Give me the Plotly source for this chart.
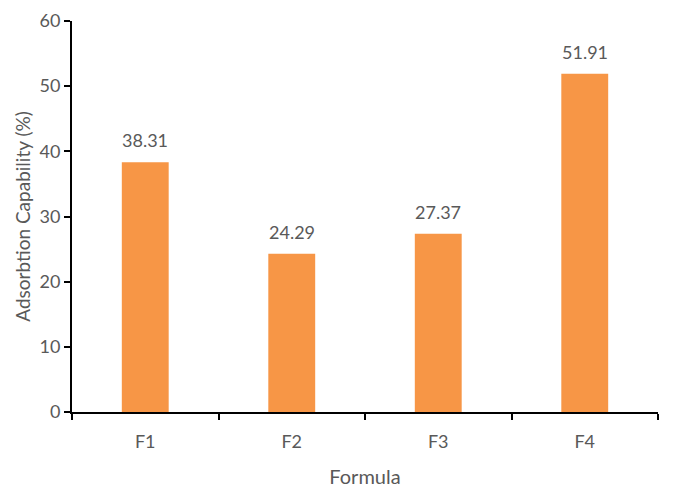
import plotly.graph_objects as go

# Absorption capability per formula
formulas = ["F1", "F2", "F3", "F4"]
absorption = [38.31, 24.29, 27.37, 51.91]
y_ticks = [0, 10, 20, 30, 40, 50, 60]

FONT = "Lato, Carlito, Calibri, Noto Sans, sans-serif"
GREY = "#595959"
BAR = "#F79646"

fig = go.Figure(
    go.Bar(
        x=formulas,
        y=absorption,
        marker=dict(color=BAR, line=dict(width=0)),
        width=0.32,
        hoverinfo="x+y",
    )
)

# Value labels above each bar
for f, v in zip(formulas, absorption):
    fig.add_annotation(
        x=f, y=v, text=f"{v:.2f}", showarrow=False,
        yanchor="bottom", yshift=9,
        font=dict(family=FONT, size=18, color=GREY),
    )

fig.update_layout(
    width=673, height=488,
    margin=dict(l=72, r=15, t=21, b=76),
    paper_bgcolor="white", plot_bgcolor="white",
    showlegend=False,
    font=dict(family=FONT, size=18, color=GREY),
    xaxis=dict(
        title=dict(text="Formula", font=dict(family=FONT, size=20, color=GREY), standoff=22),
        showline=True, linecolor="black", linewidth=2,
        ticks="outside", ticklen=6, tickcolor="black", tickwidth=1.5,
        tickson="boundaries", showgrid=False,
        ticklabelstandoff=12, automargin=False,
        tickfont=dict(family=FONT, size=18, color=GREY),
    ),
    yaxis=dict(
        title=dict(text="Adsorbtion Capability (%)", font=dict(family=FONT, size=19, color=GREY), standoff=4),
        range=[0, 60], tickvals=y_ticks,
        showline=True, linecolor="black", linewidth=2,
        ticks="outside", ticklen=6, tickcolor="black", tickwidth=1.5,
        showgrid=False, zeroline=False, automargin=False,
        tickfont=dict(family=FONT, size=18, color=GREY),
    ),
)

fig.write_html("out.html")
